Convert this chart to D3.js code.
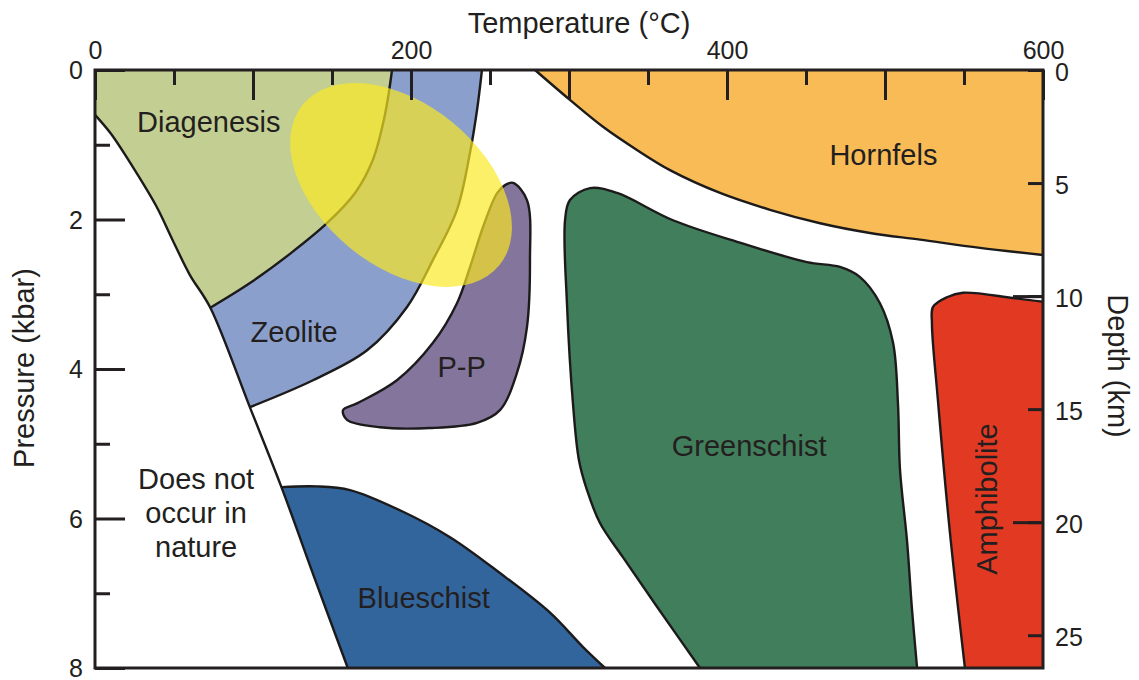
<!DOCTYPE html>
<html>
<head>
<meta charset="utf-8">
<script src="https://cdn.jsdelivr.net/npm/d3@7"></script>
<style>
  body { margin: 0; background: #fff; }
  text { font-family: "Liberation Sans", Arial, Helvetica, sans-serif; fill: #231f20; }
</style>
</head>
<body>
<svg id="chart" width="1139" height="680"></svg>
<script>
// ---- Axis ticks ----
const tempMajorTicks = [0, 100, 200, 300, 400, 500, 600];
const tempMinorTicks = [50, 150, 250, 350, 450, 550];
const tempLabels = [0, 200, 400, 600];
const pressureMajorTicks = [0, 2, 4, 6, 8];
const pressureMinorTicks = [1, 3, 5, 7];
const depthTicks = [0, 5, 10, 15, 20, 25];
const depthLongTicks = [10, 20];

// ---- Facies boundaries, as [temperature °C, pressure kbar] ----
// Lower limit of natural P-T conditions
const natureLine = [[0, 0.6], [10, 0.85], [24, 1.3], [39, 1.83], [49, 2.27], [60, 2.74],
  [73, 3.18], [98, 4.51], [118, 5.58], [139, 6.8], [160, 8]];
// Diagenesis / zeolite boundary
const diagZeoBoundary = [[73, 3.18], [98.1, 2.85], [123.4, 2.46], [146.8, 2.05], [164.6, 1.645],
  [175.9, 1.2], [183.5, 0.6], [188, 0]];
// Upper-temperature edge of zeolite facies
const zeoliteBase = [[98, 4.51], [138, 4.15], [172.2, 3.75], [197.5, 3.17], [213.9, 2.54],
  [229.1, 1.87], [237.3, 1.11], [241.8, 0.535], [244.9, 0]];
// Prehnite-pumpellyite field (closed)
const ppOutline = [[264.6, 1.51], [273.4, 1.74], [275.3, 2.54], [273.4, 3.44], [267.1, 4.05],
  [256.3, 4.55], [241.8, 4.72], [212, 4.79], [180.4, 4.78], [159.5, 4.68], [157, 4.55],
  [165.8, 4.46], [191.1, 4.15], [213.9, 3.65], [229.1, 3.12], [237.3, 2.64], [245.6, 2.1],
  [254.4, 1.65], [259.5, 1.54]];
// Lower edge of hornfels facies
const hornfelsBase = [[278.5, 0], [300.6, 0.4], [321.5, 0.76], [343, 1.07], [363.9, 1.34],
  [395.6, 1.645], [427.2, 1.87], [458.9, 2.05], [490.5, 2.18], [522.2, 2.27], [560.1, 2.38],
  [600, 2.475]];
// Greenschist field, from base (left) round to base (right)
const greenschistOutline = [[382.9, 8], [355.7, 7.18], [334.2, 6.52], [319.6, 6.06], [311.4, 5.62],
  [306.3, 5.22], [302.5, 4.46], [298.7, 3.12], [297.5, 2.01], [300.6, 1.74], [313.3, 1.58],
  [330.4, 1.645], [365.8, 2.01], [408.2, 2.31], [450.6, 2.57], [471.5, 2.635], [484.2, 2.77],
  [496.8, 3.12], [505.1, 3.65], [508.2, 4.46], [509.5, 5.35], [513.9, 6.29], [517.1, 7.22],
  [520.3, 8]];
// Amphibolite field edge, from base round to the right axis
const amphiboliteOutline = [[550.6, 8], [541.1, 6.19], [533.5, 4.42], [529.7, 3.39], [530.4, 3.17],
  [539.2, 3.04], [549.4, 2.98], [581, 3.05], [600, 3.1]];
// Upper edge of blueschist facies
const blueschistTop = [[322.8, 8], [308.9, 7.72], [288, 7.26], [256.3, 6.73], [224.7, 6.25],
  [193, 5.89], [161.4, 5.62], [140.5, 5.57], [118, 5.58]];
// Burial-metamorphism ellipse: centre, end of major axis, end of minor axis
const ellipseCentre = [193.7, 1.538];
const ellipseMajorEnd = [255.9, 2.613];
const ellipseMinorEnd = [226.1, 0.698];

const faciesLabels = [
  { text: "Diagenesis", t: 72, p: 0.83 },
  { text: "Zeolite", t: 126, p: 3.64 },
  { text: "P-P", t: 232, p: 4.11 },
  { text: "Hornfels", t: 499, p: 1.27 },
  { text: "Greenschist", t: 414, p: 5.17 },
  { text: "Blueschist", t: 208, p: 7.2 }
];
const natureLabel = ["Does not", "occur in", "nature"];

// ---- Scales ----
const svg = d3.select("#chart");
const x = d3.scaleLinear().domain([0, 600]).range([95, 1043]);
const y = d3.scaleLinear().domain([0, 8]).range([70, 668]);
const depth = d3.scaleLinear().domain([0, 26.45]).range([70, 668]);

const smooth = d3.line().x(d => x(d[0])).y(d => y(d[1])).curve(d3.curveCatmullRom.alpha(0.5));
const straight = d3.line().x(d => x(d[0])).y(d => y(d[1]));
const smoothClosed = d3.line().x(d => x(d[0])).y(d => y(d[1])).curve(d3.curveCatmullRomClosed.alpha(0.5));

// Join boundary pieces into one closed outline
function region(pieces) {
  return pieces.map((pc, i) => {
    const s = (pc.curve ? smooth : straight)(pc.pts);
    return i ? s.replace(/^M/, "L") : s;
  }).join("") + "Z";
}
const rev = a => a.slice().reverse();

const fills = svg.append("g");
fills.append("path").attr("fill", "#c3cf92").attr("d", region([
  { curve: true, pts: natureLine.slice(0, 7) },
  { curve: true, pts: diagZeoBoundary },
  { curve: false, pts: [[188, 0], [0, 0]] }
]));
fills.append("path").attr("fill", "#8b9fcc").attr("d", region([
  { curve: false, pts: natureLine.slice(6, 8) },
  { curve: true, pts: zeoliteBase },
  { curve: false, pts: [[244.9, 0], [188, 0]] },
  { curve: true, pts: rev(diagZeoBoundary) }
]));
fills.append("path").attr("fill", "#f8bb56").attr("d", region([
  { curve: true, pts: hornfelsBase },
  { curve: false, pts: [[600, 2.475], [600, 0]] }
]));
fills.append("path").attr("fill", "#417e5b").attr("d", region([
  { curve: true, pts: greenschistOutline }
]));
fills.append("path").attr("fill", "#e23a22").attr("d", region([
  { curve: true, pts: amphiboliteOutline },
  { curve: false, pts: [[600, 3.1], [600, 8]] }
]));
fills.append("path").attr("fill", "#33659d").attr("d", region([
  { curve: true, pts: natureLine.slice(8) },
  { curve: false, pts: [[160, 8], [322.8, 8]] },
  { curve: true, pts: blueschistTop }
]));
fills.append("path").attr("fill", "#83759c").attr("d", smoothClosed(ppOutline));

// Boundary lines
const lines = svg.append("g").attr("fill", "none").attr("stroke", "#1c1a1b")
  .attr("stroke-width", 2.4).attr("stroke-linejoin", "round");
[natureLine, diagZeoBoundary, zeoliteBase, hornfelsBase, greenschistOutline,
 amphiboliteOutline, blueschistTop].forEach(b => lines.append("path").attr("d", smooth(b)));
lines.append("path").attr("d", smoothClosed(ppOutline));

// Burial-metamorphism ellipse (translucent)
{
  const cx = x(ellipseCentre[0]), cy = y(ellipseCentre[1]);
  const mx = x(ellipseMajorEnd[0]), my = y(ellipseMajorEnd[1]);
  const nx = x(ellipseMinorEnd[0]), ny = y(ellipseMinorEnd[1]);
  const rx = Math.hypot(mx - cx, my - cy), ry = Math.hypot(nx - cx, ny - cy);
  const ang = Math.atan2(my - cy, mx - cx) * 180 / Math.PI;
  svg.append("ellipse")
    .attr("transform", `translate(${cx},${cy}) rotate(${ang})`)
    .attr("rx", rx).attr("ry", ry)
    .attr("fill", "rgb(250,233,33)").attr("fill-opacity", 0.68);
}

// ---- Axes ----
function styleAxis(g) {
  g.select(".domain").remove();
  g.selectAll(".tick line").attr("stroke", "#231f20").attr("stroke-width", 3);
  g.selectAll(".tick text").attr("font-size", 25).attr("fill", "#231f20")
    .style("font-family", '"Liberation Sans", Arial, sans-serif');
}
svg.append("g").attr("transform", "translate(0,70)")
  .call(d3.axisTop(x).tickValues(tempMajorTicks).tickSize(-30).tickPadding(11)
    .tickFormat(d => tempLabels.includes(d) ? d : ""))
  .call(styleAxis);
svg.append("g").attr("transform", "translate(0,70)")
  .call(d3.axisTop(x).tickValues(tempMinorTicks).tickSize(-15).tickFormat(""))
  .call(styleAxis);
svg.append("g").attr("transform", "translate(95,0)")
  .call(d3.axisLeft(y).tickValues(pressureMajorTicks).tickSize(-30).tickPadding(12))
  .call(styleAxis)
  .call(g => g.selectAll(".tick text").attr("dy", "0.34em"));
svg.append("g").attr("transform", "translate(95,0)")
  .call(d3.axisLeft(y).tickValues(pressureMinorTicks).tickSize(-15).tickFormat(""))
  .call(styleAxis);
svg.append("g").attr("transform", "translate(1043,0)")
  .call(d3.axisRight(depth).tickValues(depthTicks).tickSize(-15).tickPadding(12))
  .call(styleAxis)
  .call(g => g.selectAll(".tick text").attr("dy", "0.4em"));
svg.append("g").attr("transform", "translate(1043,0)")
  .call(d3.axisRight(depth).tickValues(depthLongTicks).tickSize(-30).tickFormat(""))
  .call(styleAxis);

// Frame
svg.append("rect").attr("x", x(0)).attr("y", y(0))
  .attr("width", x(600) - x(0)).attr("height", y(8) - y(0))
  .attr("fill", "none").attr("stroke", "#231f20").attr("stroke-width", 3);

// Axis titles
svg.append("text").attr("x", 579).attr("y", 33).attr("text-anchor", "middle")
  .attr("font-size", 29).text("Temperature (°C)");
svg.append("text").attr("transform", "translate(34,368) rotate(-90)").attr("text-anchor", "middle")
  .attr("font-size", 29).text("Pressure (kbar)");
svg.append("text").attr("transform", "translate(1108,366) rotate(90)").attr("text-anchor", "middle")
  .attr("font-size", 29).text("Depth (km)");

// Facies labels
svg.append("g").selectAll("text").data(faciesLabels).join("text")
  .attr("x", d => x(d.t)).attr("y", d => y(d.p)).attr("text-anchor", "middle")
  .attr("font-size", 29).text(d => d.text);
svg.append("text").attr("transform", `translate(${x(571)},${y(5.74)}) rotate(-90)`)
  .attr("text-anchor", "middle").attr("font-size", 29).text("Amphibolite");
svg.append("g").selectAll("text").data(natureLabel).join("text")
  .attr("x", x(64)).attr("y", (d, i) => y(5.6) + i * 34).attr("text-anchor", "middle")
  .attr("font-size", 29).text(d => d);
</script>
</body>
</html>
